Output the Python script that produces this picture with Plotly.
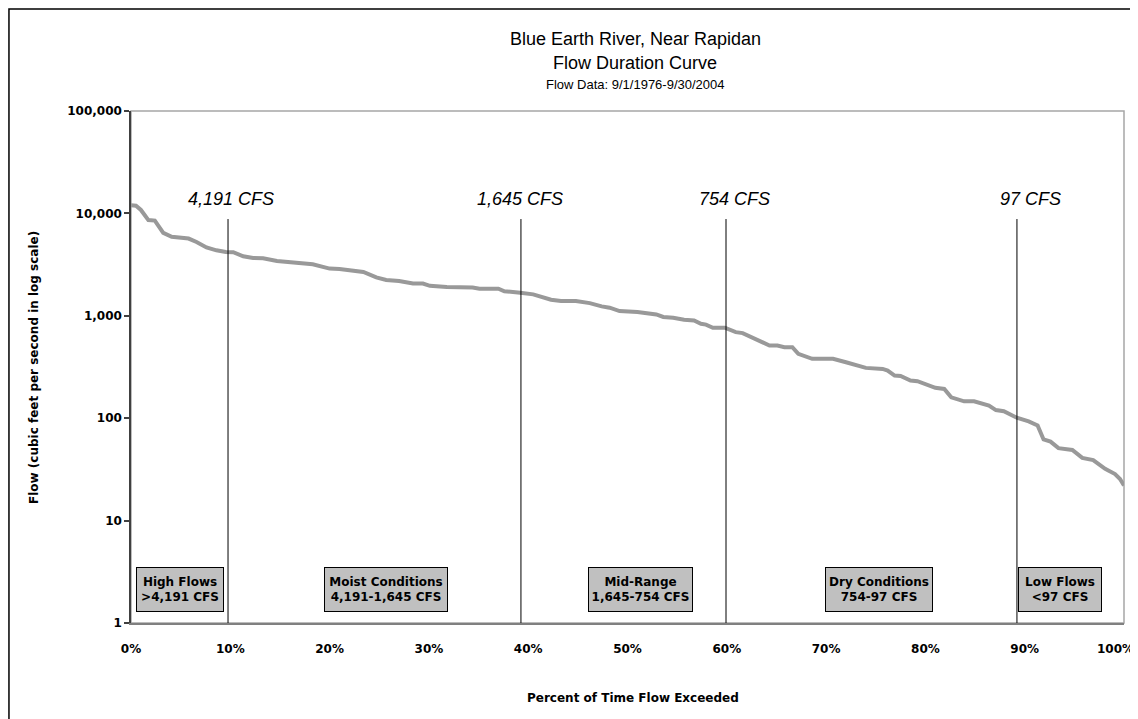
import plotly.graph_objects as go

# ---- data ----
pct_exceeded = [0, 0.5, 1.0, 1.75, 2.4, 3.25, 4.1, 5.0, 5.8, 6.6, 7.6, 8.6, 9.55, 10.3, 11.3, 12.3,
                13.3, 14.7, 17.0, 18.3, 20.0, 21.0, 23.4, 24.7, 25.7, 27.0, 28.4, 29.4, 30.1, 31.8,
                34.4, 35.1, 37.0, 37.6, 39.2, 40.5, 42.3, 43.3, 44.8, 46.2, 47.4, 48.2, 49.2, 51.0,
                52.9, 53.6, 54.6, 55.7, 56.7, 57.4, 57.9, 58.6, 59.8, 60.9, 61.6, 62.8, 63.3, 64.3,
                65.1, 65.8, 66.6, 67.2, 68.6, 70.7, 72.0, 74.0, 75.7, 76.2, 76.9, 77.5, 78.5, 79.2,
                81.0, 81.9, 82.6, 83.9, 84.9, 86.4, 87.1, 87.9, 89.2, 89.9, 90.4, 91.3, 91.9, 92.6,
                93.4, 94.8, 95.8, 96.9, 98.1, 99.1, 99.6, 100]
flow_cfs = [12000, 11900, 10800, 8600, 8500, 6450, 5900, 5750, 5680, 5260, 4650, 4360, 4200, 4180, 3810, 3670,
            3640, 3430, 3300, 3190, 2890, 2870, 2680, 2370, 2240, 2190, 2065, 2065, 1960, 1915,
            1890, 1840, 1840, 1735, 1683, 1620, 1435, 1393, 1393, 1330, 1235, 1200, 1112, 1087,
            1032, 975, 958, 916, 902, 836, 820, 765, 765, 693, 678, 597, 574, 513,
            513, 494, 494, 425, 380, 380, 352, 310, 303, 292, 261, 258, 233, 230,
            198, 193, 160, 146, 146, 133, 120, 117, 101, 96, 93, 85, 62, 59,
            51, 49, 41, 39, 32, 28.5, 25.5, 22]

divider_pct = [9.77, 39.27, 59.92, 89.22]
divider_labels = ["4,191 CFS", "1,645 CFS", "754 CFS", "97 CFS"]
divider_label_pct = [10.07, 39.17, 60.8, 90.6]

zone_names = ["High Flows", "Moist Conditions", "Mid-Range", "Dry Conditions", "Low Flows"]
zone_ranges = ["&gt;4,191 CFS", "4,191-1,645 CFS", "1,645-754 CFS", "754-97 CFS", "&lt;97 CFS"]
zone_center_pct = [4.94, 25.68, 51.26, 75.33, 93.55]
zone_box_widths = [84, 120, 101, 104, 80]

y_tickvals = [1, 10, 100, 1000, 10000, 100000]
y_ticktext = ["1", "10", "100", "1,000", "10,000", "100,000"]
x_tickvals = [0, 10, 20, 30, 40, 50, 60, 70, 80, 90, 100]
x_ticktext = [f"{v}%" for v in x_tickvals]

FONT = "Arial, Liberation Sans, sans-serif"
BOLD = "DejaVu Sans, Arial, sans-serif"

fig = go.Figure()
fig.add_trace(go.Scatter(x=pct_exceeded, y=flow_cfs, mode="lines",
                         line=dict(color="#999999", width=4), hoverinfo="skip",
                         showlegend=False))

shapes = []
annotations = []

# plot-area border (grey)
shapes.append(dict(type="rect", xref="paper", yref="paper", x0=0, y0=0, x1=1, y1=1,
                   line=dict(color="#a6a6a6", width=1.5), layer="below"))
# outer chart frame
shapes.append(dict(type="rect", xref="paper", yref="paper", x0=-0.1229, y0=-0.3, x1=1.03, y1=1.1992,
                   line=dict(color="#000000", width=1.5), layer="below"))

for p in divider_pct:
    shapes.append(dict(type="line", xref="x", yref="paper", x0=p, x1=p, y0=0, y1=0.789,
                       line=dict(color="#000000", width=1)))

for lbl, p in zip(divider_labels, divider_label_pct):
    annotations.append(dict(x=p, y=0.828, xref="x", yref="paper", text="<i>" + lbl + "</i>",
                            showarrow=False,
                            font=dict(family=FONT, size=18, color="#000000"),
                            xanchor="center", yanchor="middle"))

for name, rng, c, w in zip(zone_names, zone_ranges, zone_center_pct, zone_box_widths):
    annotations.append(dict(x=c, y=0.0645, xref="x", yref="paper",
                            text=f"<b>{name}</b><br><b>{rng}</b>", showarrow=False,
                            font=dict(family=BOLD, size=12, color="#000000"),
                            bgcolor="#c0c0c0", bordercolor="#000000", borderwidth=1, borderpad=1,
                            width=w, height=41, align="center", valign="middle",
                            xanchor="center", yanchor="middle"))

# last x tick label: drawn right-anchored so it stays inside the page edge
tick_text_shown = x_ticktext[:-1] + [""]
annotations.append(dict(x=x_tickvals[-1], y=-0.0508, xref="x", yref="paper",
                        text=f"<b>{x_ticktext[-1]}</b>", showarrow=False, xshift=12,
                        font=dict(family=BOLD, size=12, color="#000000"),
                        xanchor="right", yanchor="middle"))

# titles
annotations.append(dict(x=0.508, y=1.1406, xref="paper", yref="paper",
                        text="Blue Earth River, Near Rapidan", showarrow=False,
                        font=dict(family=FONT, size=18, color="#000000"), yanchor="middle"))
annotations.append(dict(x=0.508, y=1.0938, xref="paper", yref="paper",
                        text="Flow Duration Curve", showarrow=False,
                        font=dict(family=FONT, size=18, color="#000000"), yanchor="middle"))
annotations.append(dict(x=0.508, y=1.0508, xref="paper", yref="paper",
                        text="Flow Data: 9/1/1976-9/30/2004", showarrow=False,
                        font=dict(family=FONT, size=13, color="#000000"), yanchor="middle"))
annotations.append(dict(x=0.5055, y=-0.1465, xref="paper", yref="paper",
                        text="<b>Percent of Time Flow Exceeded</b>", showarrow=False,
                        font=dict(family=BOLD, size=12, color="#000000"), yanchor="middle"))
annotations.append(dict(x=-0.0977, y=0.5, xref="paper", yref="paper", textangle=-90,
                        text="<b>Flow (cubic feet per second in log scale)</b>", showarrow=False,
                        font=dict(family=BOLD, size=12, color="#000000"),
                        xanchor="center", yanchor="middle"))

# page body has an 8px margin, so the figure is sized/margined to land on the same pixels
fig.update_layout(
    width=1130, height=711,
    margin=dict(l=123, r=14, t=103, b=96, autoexpand=False),
    paper_bgcolor="#ffffff", plot_bgcolor="#ffffff",
    shapes=shapes, annotations=annotations,
    showlegend=False,
    font=dict(family=FONT, color="#000000"),
)
fig.update_xaxes(range=[0, 100], tickvals=x_tickvals, ticktext=tick_text_shown, automargin=False,
                 showgrid=False, zeroline=False, showline=True, linecolor="#808080", linewidth=1.5,
                 ticks="", ticklabelstandoff=14, ticklabeloverflow="allow",
                 tickfont=dict(family=BOLD, size=12, color="#000000", weight="bold"))
fig.update_yaxes(type="log", range=[0, 5], tickvals=y_tickvals, ticktext=y_ticktext, automargin=False,
                 showgrid=False, zeroline=False, showline=True, linecolor="#404040", linewidth=1.5,
                 ticks="outside", ticklen=5, tickcolor="#404040", tickwidth=1.5,
                 tickfont=dict(family=BOLD, size=12, color="#000000", weight="bold"))

fig.write_html("out.html")
